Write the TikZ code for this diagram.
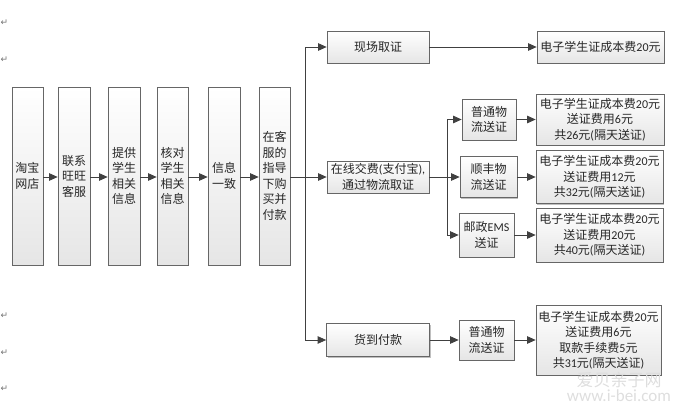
\documentclass[tikz,border=0pt]{standalone}
\usepackage{fontspec}
\setmainfont{Noto Sans CJK SC}
\newfontfamily\latn{Carlito}
\newfontfamily\djv{DejaVu Sans}
\usetikzlibrary{arrows.meta,shadows}
\tikzset{
  box/.style={draw=black!60, line width=0.7pt, top color=white, bottom color=black!10,
    align=center, inner sep=1pt, text=black!85,
    font=\fontsize{12}{15.5}\selectfont,
    drop shadow={shadow xshift=1.2pt, shadow yshift=-1.2pt, opacity=0.25, fill=black}},
  conn/.style={draw=black!75, line width=0.8pt, -{Triangle[length=8.5pt,width=7.5pt]}},
  line/.style={draw=black!75, line width=0.8pt},
  pmark/.style={text=black!55, font=\djv\fontsize{9}{9}\selectfont, inner sep=0pt},
  wm/.style={text=black!13, inner sep=0pt}
}
\begin{document}
\begin{tikzpicture}[x=1pt,y=-1pt]
\useasboundingbox (0,0) rectangle (689,409);
% paragraph marks
\node[pmark] (p1) at (4.5,23) {↵};
\node[pmark] (p2) at (4.5,60) {↵};
\node[pmark] (p3) at (4.5,316) {↵};
\node[pmark] (p4) at (4.5,353) {↵};
\node[pmark] (p5) at (4.5,389) {↵};
% left column
\node[box, minimum width=31pt, minimum height=178pt] (b1) at (27.5,176) {淘宝\\网店};
\node[box, minimum width=32pt, minimum height=178pt] (b2) at (74,176) {联系\\旺旺\\客服};
\node[box, minimum width=32pt, minimum height=178pt] (b3) at (124,176) {提供\\学生\\相关\\信息};
\node[box, minimum width=31pt, minimum height=178pt] (b4) at (172.5,176) {核对\\学生\\相关\\信息};
\node[box, minimum width=32pt, minimum height=178pt] (b5) at (224,176) {信息\\一致};
\node[box, minimum width=31pt, minimum height=178pt] (b6) at (274.5,176) {在客\\服的\\指导\\下购\\买并\\付款};
\foreach \a/\b in {b1/b2,b2/b3,b3/b4,b4/b5,b5/b6}
  \draw[conn] (\a.east |- 0,177) -- (\b.west |- 0,177);
% second column
\node[box, minimum width=102pt, minimum height=32pt] (q1) at (378,47) {现场取证};
\node[box, minimum width=102pt, minimum height=32pt] (q2) at (378,177) {在线交费{\latn(}支付宝{\latn),}\\通过物流取证};
\node[box, minimum width=103pt, minimum height=33pt] (q3) at (378,340) {货到付款};
\coordinate (j1) at (305,177);
\draw[line] (b6.east |- j1) -- (j1);
\draw[conn] (j1) |- (q1.west);
\draw[conn] (j1) -- (q2.west);
\draw[conn] (j1) |- (q3.west);
% third column
\node[box, minimum width=54pt, minimum height=41pt] (s1) at (489,119.5) {普通物\\流送证};
\node[box, minimum width=57pt, minimum height=41pt] (s2) at (488.5,177) {顺丰物\\流送证};
\node[box, minimum width=55pt, minimum height=44pt] (s3) at (486.5,235) {邮政{\latn EMS}\\送证};
\node[box, minimum width=55pt, minimum height=40pt] (s4) at (486.5,340) {普通物\\流送证};
\coordinate (j2) at (447,177);
\draw[line] (q2.east) -- (j2);
\draw[conn] (j2) |- (s1.west);
\draw[conn] (j2) -- (s2.west);
\draw[conn] (j2) |- (s3.west);
\draw[conn] (q3.east) -- (s4.west |- q3.east);
% results
\node[box, minimum width=127pt, minimum height=32pt] (r0) at (600.5,47) {电子学生证成本费{\latn 20}元};
\node[box, minimum width=128pt, minimum height=51pt] (r1) at (600,119.5) {电子学生证成本费{\latn 20}元\\送证费用{\latn 6}元\\共{\latn 26}元{\latn(}隔天送证{\latn)}};
\node[box, minimum width=127pt, minimum height=53pt] (r2) at (599.5,177) {电子学生证成本费{\latn 20}元\\送证费用{\latn 12}元\\共{\latn 32}元{\latn(}隔天送证{\latn)}};
\node[box, minimum width=127pt, minimum height=54pt] (r3) at (599.5,235) {电子学生证成本费{\latn 20}元\\送证费用{\latn 20}元\\共{\latn 40}元{\latn(}隔天送证{\latn)}};
\node[box, minimum width=125pt, minimum height=70pt] (r4) at (598.5,340) {电子学生证成本费{\latn 20}元\\送证费用{\latn 6}元\\取款手续费{\latn 5}元\\共{\latn 31}元{\latn(}隔天送证{\latn)}};
\draw[conn] (q1.east) -- (r0.west);
\draw[conn] (s1.east) -- (r1.west |- s1.east);
\draw[conn] (s2.east) -- (r2.west |- s2.east);
\draw[conn] (s3.east) -- (r3.west |- s3.east);
\draw[conn] (s4.east) -- (r4.west |- s4.east);
% watermark
\node[wm, font=\fontsize{17}{17}\selectfont] (w1) at (619,380) {爱贝亲子网};
\node[wm, font=\latn\fontsize{17}{17}\selectfont] (w2) at (619,395.5) {www.i-bei.com};
\end{tikzpicture}
\end{document}
